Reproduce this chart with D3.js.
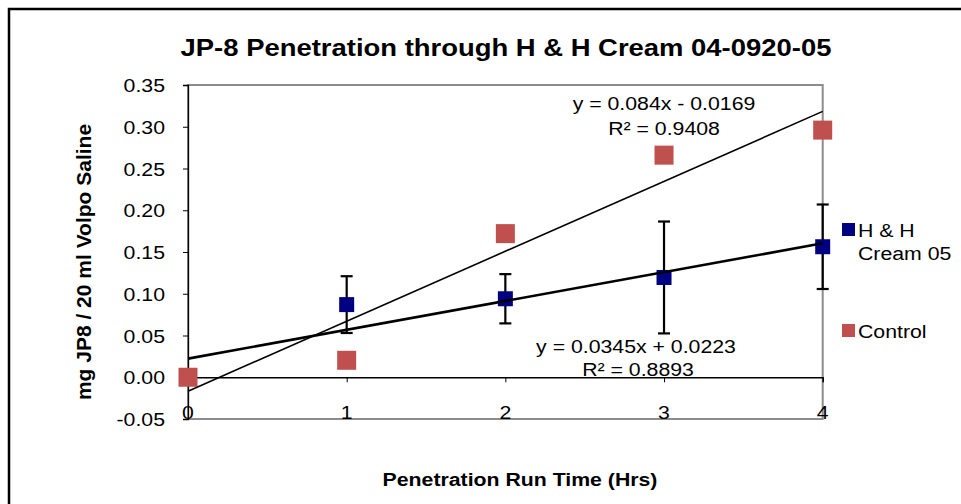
<!DOCTYPE html>
<html>
<head>
<meta charset="utf-8">
<script src="https://cdn.jsdelivr.net/npm/d3@7"></script>
<style>
  html, body { margin: 0; padding: 0; background: #fff; }
  svg { display: block; font-family: "Liberation Sans", Arial, sans-serif; }
</style>
</head>
<body>
<svg id="chart" width="961" height="504"></svg>
<script>
// Run times (hours)
const hours = [0, 1, 2, 3, 4];
// mg JP8 per 20 ml Volpo saline
const creamValues = [0, 0.087, 0.094, 0.1195, 0.1563];
const creamErrors = [0, 0.034, 0.0295, 0.067, 0.0506];
const controlValues = [0, 0.0203, 0.172, 0.266, 0.296];
const yTicks = [-0.05, 0, 0.05, 0.10, 0.15, 0.20, 0.25, 0.30, 0.35];
const xTicks = [0, 1, 2, 3, 4];

const svg = d3.select("#chart");
const SX = 1.12; // horizontal stretch of the text face

// text placed at (x, y) with a slightly widened face
function label(parent, x, y, txt, size, opts = {}) {
  return parent.append("text")
    .attr("transform", `translate(${x},${y}) scale(${SX},1)`)
    .attr("text-anchor", opts.anchor || "start")
    .attr("font-size", size)
    .attr("font-weight", opts.bold ? "bold" : "normal")
    .attr("fill", "#000")
    .text(txt);
}

// outer chart frame
svg.append("rect")
  .attr("x", 9).attr("y", 9)
  .attr("width", 1000).attr("height", 600)
  .attr("fill", "#fff").attr("stroke", "#000").attr("stroke-width", 2.5);

const x = d3.scaleLinear().domain([0, 4]).range([188, 822.7]);
const y = d3.scaleLinear().domain([-0.05, 0.35]).range([419, 85]);

// plot area border
svg.append("rect")
  .attr("x", x(0)).attr("y", y(0.35))
  .attr("width", x(4) - x(0)).attr("height", y(-0.05) - y(0.35))
  .attr("fill", "none").attr("stroke", "#8c8c8c").attr("stroke-width", 2);

// y axis
const yAxis = d3.axisLeft(y).tickValues(yTicks).tickSize(5).tickFormat("");
const gy = svg.append("g").attr("transform", `translate(${x(0)},0)`).call(yAxis);
gy.select(".domain").attr("stroke", "#000").attr("stroke-width", 1.3);
gy.selectAll(".tick line").attr("stroke", "#000");
const fmtY = v => d3.format(".2f")(v).replace("−", "-");
const gyl = svg.append("g");
yTicks.forEach(v => label(gyl, 165, y(v) + 7, fmtY(v), 19, { anchor: "end" }));

// x axis crossing at zero, labels sit at the bottom of the plot
const xAxis = d3.axisBottom(x).tickValues(xTicks).tickSize(5).tickFormat("");
const gx = svg.append("g").attr("transform", `translate(0,${y(0)})`).call(xAxis);
gx.select(".domain").attr("stroke", "#000").attr("stroke-width", 1.3);
gx.selectAll(".tick line").attr("stroke", "#000");
const gxl = svg.append("g");
xTicks.forEach(v => label(gxl, x(v), 419, String(v), 19, { anchor: "middle" }));

// linear least-squares fit
function fit(xs, ys) {
  const mx = d3.mean(xs), my = d3.mean(ys);
  let sxy = 0, sxx = 0;
  for (let i = 0; i < xs.length; i++) {
    sxy += (xs[i] - mx) * (ys[i] - my);
    sxx += (xs[i] - mx) ** 2;
  }
  const m = sxy / sxx;
  return { m, b: my - m * mx };
}
const creamFit = fit(hours, creamValues);
const controlFit = fit(hours, controlValues);

// error bars
const creamPts = hours.map((h, i) => ({ h, v: creamValues[i], e: creamErrors[i] }));
const eb = svg.append("g").attr("stroke", "#000").attr("stroke-width", 2.2);
creamPts.filter(d => d.e > 0).forEach(d => {
  eb.append("line").attr("x1", x(d.h)).attr("x2", x(d.h))
    .attr("y1", y(d.v - d.e)).attr("y2", y(d.v + d.e));
  [d.v - d.e, d.v + d.e].forEach(v => {
    eb.append("line").attr("x1", x(d.h) - 6).attr("x2", x(d.h) + 6)
      .attr("y1", y(v)).attr("y2", y(v));
  });
});

// markers
svg.append("g").selectAll("rect").data(hours).join("rect")
  .attr("x", d => x(d) - 9.5).attr("y", (d, i) => y(controlValues[i]) - 9.5)
  .attr("width", 19).attr("height", 19).attr("fill", "#C0504D");
svg.append("g").selectAll("rect").data(creamPts.filter(d => d.h > 0)).join("rect")
  .attr("x", d => x(d.h) - 7.5).attr("y", d => y(d.v) - 7.5)
  .attr("width", 15).attr("height", 15).attr("fill", "#000080");

// trendlines
function trend(f, w) {
  svg.append("line")
    .attr("x1", x(0)).attr("y1", y(f.b))
    .attr("x2", x(4)).attr("y2", y(f.m * 4 + f.b))
    .attr("stroke", "#000").attr("stroke-width", w);
}
trend(controlFit, 1.6);
trend(creamFit, 2.6);

// trendline equations
const ge = svg.append("g");
label(ge, 664, 110, "y = 0.084x - 0.0169", 19, { anchor: "middle" });
label(ge, 664, 135, "R² = 0.9408", 19, { anchor: "middle" });
label(ge, 636, 353, "y = 0.0345x + 0.0223", 19, { anchor: "middle" });
label(ge, 638, 376, "R² = 0.8893", 19, { anchor: "middle" });

// title
label(svg, 506, 56, "JP-8 Penetration through H & H Cream 04-0920-05", 24.5, { anchor: "middle", bold: true });

// axis titles
label(svg, 520, 486, "Penetration Run Time (Hrs)", 19, { anchor: "middle", bold: true });
svg.append("text")
  .attr("transform", "translate(91,262) rotate(-90)")
  .attr("text-anchor", "middle").attr("font-size", 21).attr("font-weight", "bold")
  .text("mg JP8 / 20 ml Volpo Saline");

// legend
const legend = svg.append("g");
legend.append("rect").attr("x", 842).attr("y", 223).attr("width", 13).attr("height", 13).attr("fill", "#000080");
label(legend, 858, 237, "H & H", 19);
label(legend, 858, 260, "Cream 05", 19);
legend.append("rect").attr("x", 842).attr("y", 324).attr("width", 13).attr("height", 13).attr("fill", "#C0504D");
label(legend, 858, 338, "Control", 19);
</script>
</body>
</html>
